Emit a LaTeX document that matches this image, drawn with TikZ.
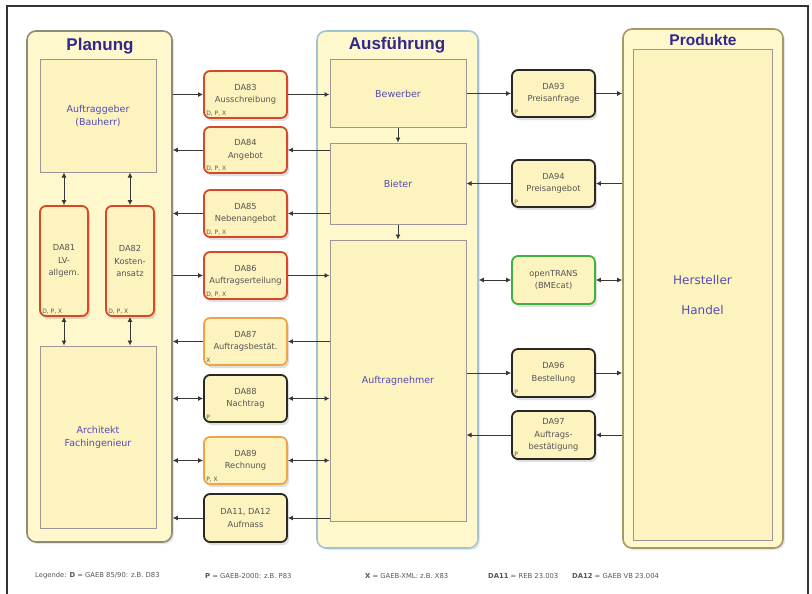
\documentclass[tikz,border=0pt]{standalone}
\usepackage{fontspec}
\setmainfont{DejaVu Sans}
\newfontfamily\titlefont{Liberation Sans}
\usetikzlibrary{arrows.meta,shadows}
\definecolor{contfill}{RGB}{254,248,204}
\definecolor{boxfill}{RGB}{253,243,190}
\definecolor{titleblue}{RGB}{48,40,140}
\definecolor{innertext}{RGB}{84,76,180}
\definecolor{innerline}{RGB}{160,148,150}
\definecolor{planline}{RGB}{140,140,120}
\definecolor{ausline}{RGB}{160,196,212}
\definecolor{prodline}{RGB}{168,152,100}
\definecolor{dared}{RGB}{214,72,40}
\definecolor{daorange}{RGB}{240,164,72}
\definecolor{dablack}{RGB}{40,40,36}
\definecolor{dagreen}{RGB}{64,176,64}
\definecolor{datext}{RGB}{85,85,85}
\definecolor{conn}{RGB}{55,55,55}
\tikzset{
  container/.style={draw, line width=1.6pt, rounded corners=9pt, fill=contfill, inner sep=0pt,
    drop shadow={shadow xshift=2pt, shadow yshift=-2pt, opacity=0.2}},
  inner/.style={draw=innerline, line width=1pt, fill=boxfill, inner sep=0pt, text=innertext,
    font=\fontsize{9.5}{13}\selectfont, align=center},
  dabox/.style={draw, line width=1.8pt, rounded corners=6pt, fill=boxfill, inner sep=0pt,
    minimum width=83pt, text=datext, font=\fontsize{8.3}{12.5}\selectfont, align=center,
    drop shadow={shadow xshift=2pt, shadow yshift=-3pt, opacity=0.25}},
  corner/.style={text=datext, font=\fontsize{6}{7}\selectfont, inner sep=0pt, anchor=south west},
  title/.style={text=titleblue, font=\titlefont\bfseries\fontsize{17}{19}\selectfont},
  arr/.style={draw=conn, line width=0.9pt, -{Latex[length=5pt,width=5pt]}},
  barr/.style={draw=conn, line width=0.9pt, {Latex[length=5pt,width=5pt]}-{Latex[length=5pt,width=5pt]}},
  leg/.style={text=datext, font=\fontsize{6.8}{9}\selectfont, anchor=west, inner sep=0pt}
}
\begin{document}
\begin{tikzpicture}[x=1pt,y=-1pt]
\useasboundingbox (0,0) rectangle (812,594);
% frame
\draw[line width=1.2pt, draw=black!80] (7,600) -- (7,6) -- (808,6) -- (808,600);

% containers
\node[container, draw=planline, minimum width=145pt, minimum height=511pt] (plan) at (99.5,286.5) {};
\node[container, draw=ausline, minimum width=161pt, minimum height=517pt] (aus) at (397.5,289.5) {};
\node[container, draw=prodline, minimum width=160pt, minimum height=519pt] (prod) at (703,288.5) {};
\node[title] (tplan) at (100,46) {Planung};
\node[title] (taus) at (397,45) {Ausführung};
\node[title, font=\titlefont\bfseries\fontsize{15.5}{17}\selectfont] (tprod) at (703,39.5) {Produkte};

% Planung inner
\node[inner, minimum width=116pt, minimum height=112pt] (ag) at (98,116) {Auftraggeber\\(Bauherr)};
\node[inner, minimum width=116pt, minimum height=182pt] (arch) at (98,437) {Architekt\\Fachingenieur};
\node[dabox, draw=dared, minimum width=48pt, minimum height=110pt] (da81) at (64,261) {DA81\\LV-\\allgem.};
\node[corner] at ([xshift=3pt,yshift=3pt]da81.south west) {D, P, X};
\node[dabox, draw=dared, minimum width=48pt, minimum height=110pt] (da82) at (130,261) {DA82\\Kosten-\\ansatz};
\node[corner] at ([xshift=3pt,yshift=3pt]da82.south west) {D, P, X};

% Ausfuehrung inner
\node[inner, minimum width=136pt, minimum height=67pt] (bew) at (398,93.5) {Bewerber};
\node[inner, minimum width=136pt, minimum height=81pt] (bie) at (398,183.5) {Bieter};
\node[inner, minimum width=136pt, minimum height=281pt] (an) at (398,380.5) {Auftragnehmer};

% Produkte inner
\node[inner, minimum width=139pt, minimum height=490pt, font=\fontsize{12}{30}\selectfont] (hh) at (702.5,295) {Hersteller\\Handel};

% middle DA boxes
\node[dabox, draw=dared, minimum height=47pt] (da83) at (245.5,94.5) {DA83\\Ausschreibung};
\node[corner] at ([xshift=3pt,yshift=3pt]da83.south west) {D, P, X};
\node[dabox, draw=dared, minimum height=46pt] (da84) at (245.5,150) {DA84\\Angebot};
\node[corner] at ([xshift=3pt,yshift=3pt]da84.south west) {D, P, X};
\node[dabox, draw=dared, minimum height=47pt] (da85) at (245.5,213.5) {DA85\\Nebenangebot};
\node[corner] at ([xshift=3pt,yshift=3pt]da85.south west) {D, P, X};
\node[dabox, draw=dared, minimum height=47pt] (da86) at (245.5,275.5) {DA86\\Auftragserteilung};
\node[corner] at ([xshift=3pt,yshift=3pt]da86.south west) {D, P, X};
\node[dabox, draw=daorange, minimum height=47pt] (da87) at (245.5,341.5) {DA87\\Auftragsbestät.};
\node[corner] at ([xshift=3pt,yshift=3pt]da87.south west) {X};
\node[dabox, draw=dablack, minimum height=47pt] (da88) at (245.5,398.5) {DA88\\Nachtrag};
\node[corner] at ([xshift=3pt,yshift=3pt]da88.south west) {P};
\node[dabox, draw=daorange, minimum height=47pt] (da89) at (245.5,460.5) {DA89\\Rechnung};
\node[corner] at ([xshift=3pt,yshift=3pt]da89.south west) {P, X};
\node[dabox, draw=dablack, minimum height=48pt] (da11) at (245.5,518) {DA11, DA12\\Aufmass};

% right DA boxes
\node[dabox, draw=dablack, minimum height=47pt] (da93) at (553.5,93.5) {DA93\\Preisanfrage};
\node[corner] at ([xshift=3pt,yshift=3pt]da93.south west) {P};
\node[dabox, draw=dablack, minimum height=47pt] (da94) at (553.5,183.5) {DA94\\Preisangebot};
\node[corner] at ([xshift=3pt,yshift=3pt]da94.south west) {P};
\node[dabox, draw=dagreen, minimum height=48pt] (ot) at (553.5,280) {openTRANS\\(BMEcat)};
\node[dabox, draw=dablack, minimum height=48pt] (da96) at (553.5,373) {DA96\\Bestellung};
\node[corner] at ([xshift=3pt,yshift=3pt]da96.south west) {P};
\node[dabox, draw=dablack, minimum height=48pt] (da97) at (553.5,435) {DA97\\Auftrags-\\bestätigung};
\node[corner] at ([xshift=3pt,yshift=3pt]da97.south west) {P};

% vertical connectors
\draw[barr] (ag.south -| da81) -- (da81.north);
\draw[barr] (ag.south -| da82) -- (da82.north);
\draw[barr] (da81.south) -- (arch.north -| da81);
\draw[barr] (da82.south) -- (arch.north -| da82);
\draw[arr] (bew.south) -- (bie.north);
\draw[arr] (bie.south) -- (an.north);

% left connectors
\draw[arr] (plan.east |- da83) -- (da83.west);
\draw[arr] (da83.east) -- (bew.west |- da83);
\draw[arr] (bie.west |- da84) -- (da84.east);
\draw[arr] (da84.west) -- (plan.east |- da84);
\draw[arr] (bie.west |- da85) -- (da85.east);
\draw[arr] (da85.west) -- (plan.east |- da85);
\draw[arr] (plan.east |- da86) -- (da86.west);
\draw[arr] (da86.east) -- (an.west |- da86);
\draw[arr] (an.west |- da87) -- (da87.east);
\draw[arr] (da87.west) -- (plan.east |- da87);
\draw[barr] (plan.east |- da88) -- (da88.west);
\draw[barr] (da88.east) -- (an.west |- da88);
\draw[barr] (plan.east |- da89) -- (da89.west);
\draw[barr] (da89.east) -- (an.west |- da89);
\draw[arr] (an.west |- da11) -- (da11.east);
\draw[arr] (da11.west) -- (plan.east |- da11);

% right connectors
\draw[arr] (bew.east |- da93) -- (da93.west);
\draw[arr] (da93.east) -- (prod.west |- da93);
\draw[arr] (prod.west |- da94) -- (da94.east);
\draw[arr] (da94.west) -- (bie.east |- da94);
\draw[barr] (aus.east |- ot) -- (ot.west);
\draw[barr] (ot.east) -- (prod.west |- ot);
\draw[arr] (an.east |- da96) -- (da96.west);
\draw[arr] (da96.east) -- (prod.west |- da96);
\draw[arr] (prod.west |- da97) -- (da97.east);
\draw[arr] (da97.west) -- (an.east |- da97);

% legend
\node[leg] (l1) at (35,576) {Legende: \textbf{D} = GAEB 85/90: z.B. D83};
\node[leg] (l2) at (205,576) {\textbf{P} = GAEB-2000: z.B. P83};
\node[leg] (l3) at (365,576) {\textbf{X} = GAEB-XML: z.B. X83};
\node[leg] (l4) at (488,576) {\textbf{DA11} = REB 23.003};
\node[leg] (l5) at (572,576) {\textbf{DA12} = GAEB VB 23.004};
\end{tikzpicture}
\end{document}
